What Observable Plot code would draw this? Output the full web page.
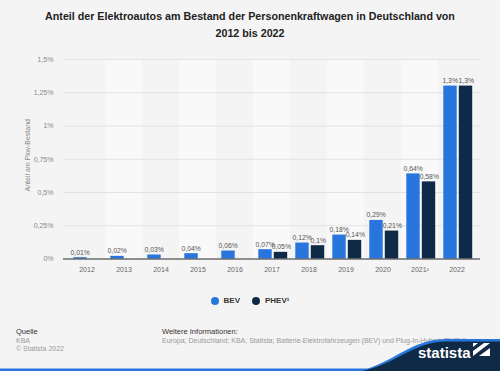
<!DOCTYPE html>
<html><head><meta charset="utf-8">
<script src="https://cdn.jsdelivr.net/npm/d3@7"></script>
<script src="https://cdn.jsdelivr.net/npm/@observablehq/plot@0.6"></script>
<style>
html,body{margin:0;padding:0}
body{background:#f4f4f4;font-family:"Liberation Sans",Arial,sans-serif;width:500px;height:371px;overflow:hidden;position:relative}
#title{position:absolute;top:8px;left:0;width:500px;text-align:center;font-weight:bold;font-size:10.7px;line-height:17px;color:#222}
#chart{position:absolute;top:45px;left:0}
#legend{position:absolute;top:296px;left:0;width:500px;display:flex;justify-content:center;gap:12px;font-size:8px;font-weight:bold;color:#333}
#legend span{display:flex;align-items:center}
#legend i{display:inline-block;width:8px;height:8px;border-radius:50%;margin-right:5px}
.f{position:absolute;font-size:7px;line-height:8.5px;color:#999}
.f b{font-weight:normal;color:#333;font-size:7.5px}
#logo{position:absolute;left:0;top:0}
</style></head>
<body>
<div id="title">Anteil der Elektroautos am Bestand der Personenkraftwagen in Deutschland von<br>2012 bis 2022</div>
<div id="chart"></div>
<div id="legend"><span><i style="background:#2876dd"></i>BEV</span><span><i style="background:#0f2a46"></i>PHEV¹</span></div>
<div class="f" style="left:16px;top:328px"><b>Quelle</b><br>KBA<br>© Statista 2022</div>
<div class="f" style="left:162px;top:328px;white-space:nowrap"><b>Weitere Informationen:</b><br>Europa; Deutschland; KBA; Statista; Batterie-Elektrofahrzeugen (BEV) und Plug-In-Hybrid (PHEV)</div>
<svg id="logo" width="500" height="371">
<rect x="0" y="368.5" width="500" height="2.5" fill="#2876dd"/>
<path d="M360,371 C395,362 410,340 445,339 L500,339 L500,371 Z" fill="#2876dd"/>
<path d="M362,371 C397,364 412,342 447,341.5 L500,341.5 L500,371 Z" fill="#0f2a46"/>
<text x="418" y="358" fill="#fff" font-size="15" font-weight="bold" font-family="Liberation Sans, Arial, sans-serif">statista</text>
<path d="M473,343 L490,343 L490,356 L473,356 Z" fill="#fff"/>
<path d="M473,356 L490,343 L490,348 L479,356 Z" fill="#0f2a46"/>
<path d="M473,351 L484,343 L478,343 L473,347 Z" fill="#0f2a46"/>
</svg>
<script>
const years = ["2012","2013","2014","2015","2016","2017","2018","2019","2020","2021","2022"];
const yearLabels = ["2012","2013","2014","2015","2016","2017","2018","2019","2020","2021²","2022"];
const bevValues = [0.01,0.02,0.03,0.04,0.06,0.07,0.12,0.18,0.29,0.64,1.3];
const phevValues = [null,null,null,null,null,0.05,0.1,0.14,0.21,0.58,1.3];
const yTicks = [0,0.25,0.5,0.75,1,1.25,1.5];
const yLabel = "Anteil am Pkw-Bestand";

const fmt = v => String(v).replace(".", ",") + "%";
const bev = years.map((y,i)=>({year:y, v:bevValues[i]}));
const phev = years.map((y,i)=>({year:y, v:phevValues[i]})).filter(d=>d.v!=null);
const stripes = years.filter((y,i)=>i%2===1);

const plot = Plot.plot({
  width:500, height:240,
  marginLeft:63, marginRight:20, marginTop:14, marginBottom:26.5,
  style:{background:"transparent", fontFamily:"Liberation Sans, Arial, sans-serif"},
  x:{domain:years, padding:0, label:null},
  y:{domain:[0,1.5], label:null},
  marks:[
    Plot.barY(stripes,{x:d=>d, y1:0, y2:1.5, fill:"#f9f9f9"}),
    Plot.gridY(yTicks,{stroke:"#e2e2e2", strokeOpacity:1}),
    Plot.axisY({ticks:yTicks, tickFormat:fmt, tickSize:0, tickPadding:10, fontSize:7, fill:"#888", label:null}),
    Plot.axisX({tickFormat:(d)=>yearLabels[years.indexOf(d)], tickSize:0, tickPadding:8, fontSize:7, fill:"#666", label:null}),
    Plot.text([yLabel],{frameAnchor:"left", textAnchor:"middle", rotate:-90, dx:-36, dy:-4, fontSize:7, fill:"#888"}),
    Plot.barY(bev,{x:"year", y:"v", fill:"#2876dd", insetLeft:5.3, insetRight:18.3}),
    Plot.barY(phev,{x:"year", y:"v", fill:"#0f2a46", insetLeft:20.8, insetRight:2.8}),
    Plot.text(bev,{x:"year", y:"v", text:d=>fmt(d.v), dx:-6.8, dy:-3, lineAnchor:"bottom", fontSize:6.8, fill:"#555"}),
    Plot.text(phev,{x:"year", y:"v", text:d=>fmt(d.v), dx:9.3, dy:-3, lineAnchor:"bottom", fontSize:6.8, fill:"#555"}),
    Plot.ruleY([0],{stroke:"#333", strokeWidth:1})
  ]
});
document.getElementById("chart").appendChild(plot);
</script>
</body></html>
